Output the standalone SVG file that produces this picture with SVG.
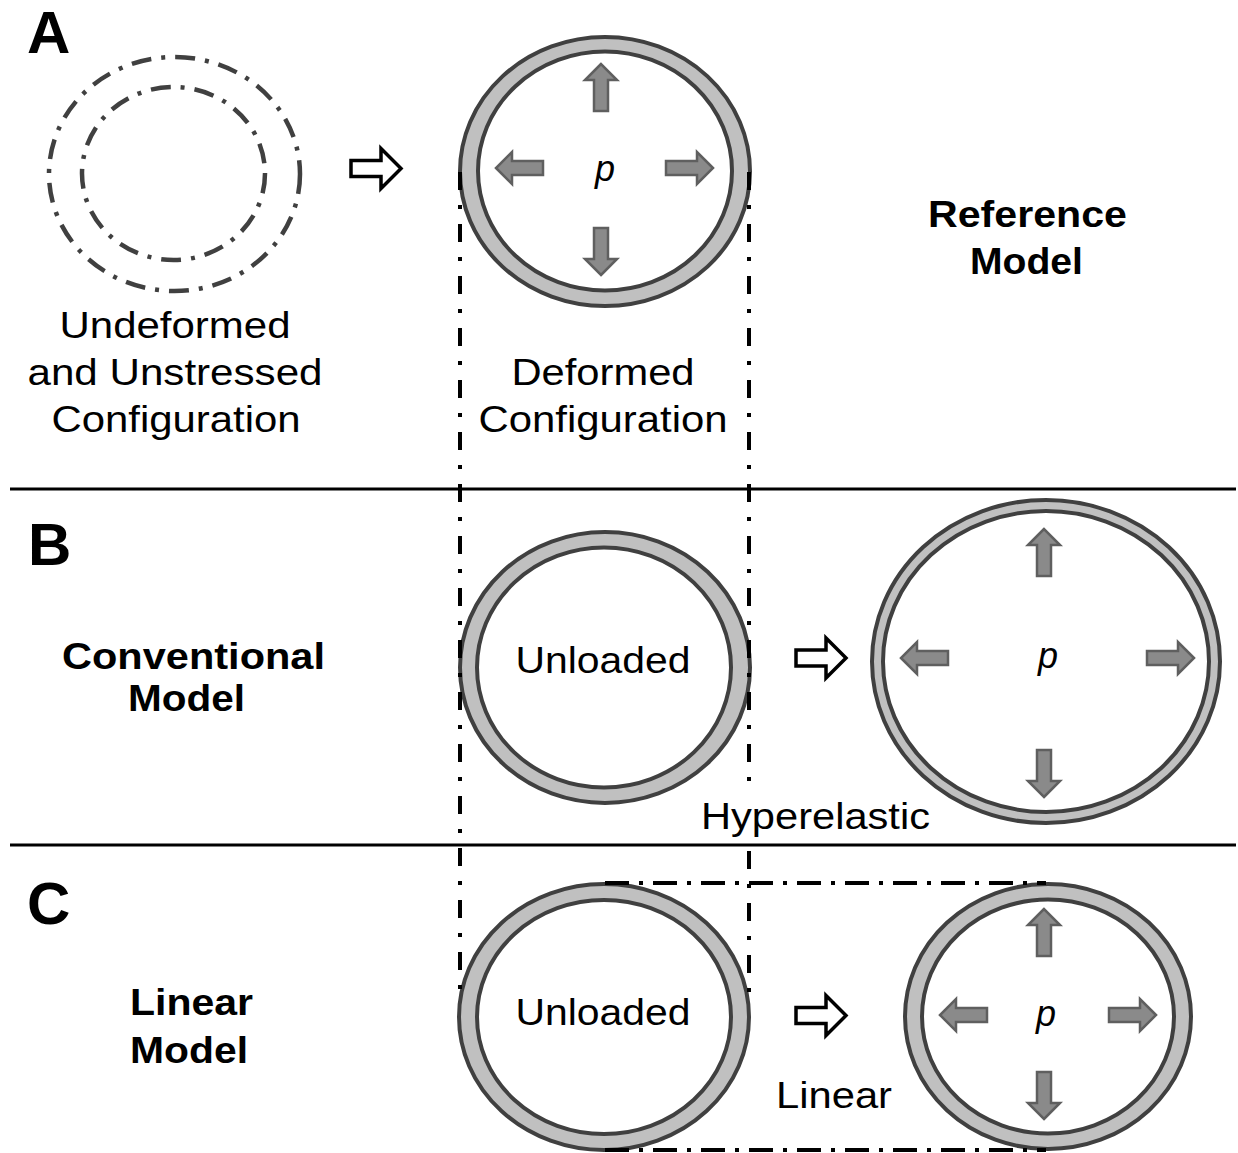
<svg xmlns="http://www.w3.org/2000/svg" width="1238" height="1153" viewBox="0 0 1238 1153">
  <style>
    .reg { font-family: "Liberation Sans", Arial, sans-serif; font-size: 36px; fill: #000; text-anchor: middle; }
    .bold { font-family: "Liberation Sans", Arial, sans-serif; font-size: 36px; font-weight: bold; fill: #000; text-anchor: middle; }
    .letter { font-family: "Liberation Sans", Arial, sans-serif; font-size: 60px; font-weight: bold; fill: #000; }
    .pvar { font-family: "Liberation Sans", Arial, sans-serif; font-size: 36px; font-style: italic; fill: #000; text-anchor: middle; }
    .ringout { fill: #c0c0c0; stroke: #404040; stroke-width: 4; }
    .ringin { fill: #ffffff; stroke: #404040; stroke-width: 4; }
    .ghost { fill: none; stroke: #404040; stroke-width: 4.5; stroke-dasharray: 20 10 4 10; }
    .guide { fill: none; stroke: #000; stroke-width: 4; stroke-dasharray: 18 15 4 15; }
    .guideh { fill: none; stroke: #000; stroke-width: 4; stroke-dasharray: 24 10 4 10; }
    .sep { stroke: #000; stroke-width: 3; }
    .hollow { fill: #fff; stroke: #000; stroke-width: 3.5; stroke-linejoin: miter; }
    .parrow { fill: #8a8a8a; stroke: #5f5f5f; stroke-width: 2.5; stroke-linejoin: miter; }
  </style>
  <defs>
    <path id="pa" class="parrow" d="M0,0 L-16,-16 V-7 H-47 V7 H-16 V16 Z"/>
    <path id="ha" class="hollow" d="M0,0 L-20,20 V8 H-50 V-8 H-20 V-20 Z"/>
  </defs>
  <rect width="1238" height="1153" fill="#fff"/>

  <!-- separators -->
  <g id="separators">
    <line class="sep" x1="10" y1="489" x2="1236" y2="489"/>
    <line class="sep" x1="10" y1="845" x2="1236" y2="845"/>
  </g>

  <!-- panel letters -->
  <text class="letter" x="27" y="53">A</text>
  <text class="letter" x="28" y="565">B</text>
  <text class="letter" x="27" y="924">C</text>

  <!-- A: undeformed -->
  <g id="undeformed">
    <ellipse class="ghost" cx="174.5" cy="174" rx="125.5" ry="117"/>
    <ellipse class="ghost" cx="173.5" cy="173.5" rx="91.5" ry="86.5"/>
    <text class="reg" x="175" y="338" textLength="231" lengthAdjust="spacingAndGlyphs">Undeformed</text>
    <text class="reg" x="175" y="385" textLength="295" lengthAdjust="spacingAndGlyphs">and Unstressed</text>
    <text class="reg" x="176" y="432" textLength="249" lengthAdjust="spacingAndGlyphs">Configuration</text>
  </g>

  <!-- A: deformed -->
  <g id="deformed">
    <ellipse class="ringout" cx="605" cy="171.5" rx="145" ry="134.5"/>
    <ellipse class="ringin" cx="605" cy="171" rx="127" ry="119.5"/>
    <use href="#pa" transform="translate(601,64) rotate(-90)"/>
    <use href="#pa" transform="translate(601,275) rotate(90)"/>
    <use href="#pa" transform="translate(496,168) rotate(180)"/>
    <use href="#pa" transform="translate(713,168)"/>
    <text class="pvar" x="605" y="181">p</text>
    <text class="reg" x="603" y="385" textLength="183" lengthAdjust="spacingAndGlyphs">Deformed</text>
    <text class="reg" x="603" y="432" textLength="249" lengthAdjust="spacingAndGlyphs">Configuration</text>
  </g>

  <g id="reference-label">
    <text class="bold" x="1027.5" y="227" textLength="199" lengthAdjust="spacingAndGlyphs">Reference</text>
    <text class="bold" x="1026.5" y="274" textLength="113" lengthAdjust="spacingAndGlyphs">Model</text>
  </g>

  <!-- B -->
  <g id="conventional-label">
    <text class="bold" x="193.5" y="669" textLength="263" lengthAdjust="spacingAndGlyphs">Conventional</text>
    <text class="bold" x="186.5" y="711" textLength="117" lengthAdjust="spacingAndGlyphs">Model</text>
  </g>
  <g id="b-unloaded">
    <ellipse class="ringout" cx="605" cy="667.5" rx="145" ry="135.5"/>
    <ellipse class="ringin" cx="604" cy="667.5" rx="127" ry="120"/>
    <text class="reg" x="603" y="673" textLength="175" lengthAdjust="spacingAndGlyphs">Unloaded</text>
  </g>
  <g id="b-loaded">
    <ellipse class="ringout" cx="1046" cy="661.5" rx="174" ry="161.5"/>
    <ellipse class="ringin" cx="1046" cy="661.5" rx="163" ry="150.5"/>
    <use href="#pa" transform="translate(1044,529) rotate(-90)"/>
    <use href="#pa" transform="translate(1044,797) rotate(90)"/>
    <use href="#pa" transform="translate(901,658) rotate(180)"/>
    <use href="#pa" transform="translate(1194,658)"/>
    <text class="pvar" x="1048" y="668">p</text>
  </g>

  <!-- C -->
  <g id="linear-label">
    <text class="bold" x="191.5" y="1015" textLength="123" lengthAdjust="spacingAndGlyphs">Linear</text>
    <text class="bold" x="189" y="1063" textLength="118" lengthAdjust="spacingAndGlyphs">Model</text>
  </g>
  <g id="c-unloaded">
    <ellipse class="ringout" cx="604" cy="1017" rx="145" ry="133"/>
    <ellipse class="ringin" cx="604" cy="1017" rx="127" ry="117"/>
    <text class="reg" x="603" y="1025" textLength="175" lengthAdjust="spacingAndGlyphs">Unloaded</text>
  </g>
  <g id="c-loaded">
    <ellipse class="ringout" cx="1048" cy="1016.5" rx="143" ry="132.5"/>
    <ellipse class="ringin" cx="1048" cy="1016.5" rx="126" ry="117"/>
    <use href="#pa" transform="translate(1044,909) rotate(-90)"/>
    <use href="#pa" transform="translate(1044,1119) rotate(90)"/>
    <use href="#pa" transform="translate(940,1015) rotate(180)"/>
    <use href="#pa" transform="translate(1156,1015)"/>
    <text class="pvar" x="1046" y="1026">p</text>
  </g>

  <!-- guide lines and transition arrows (connectors) -->
  <g id="connectors">
    <line class="guide" x1="460" y1="172" x2="460" y2="1000"/>
    <line class="guide" x1="749" y1="172" x2="749" y2="788"/>
    <line class="guide" x1="749" y1="851" x2="749" y2="998"/>
    <line class="guideh" x1="605" y1="883" x2="1046" y2="883"/>
    <line class="guideh" x1="605" y1="1150" x2="1046" y2="1150"/>
    <use href="#ha" transform="translate(401,168.5)"/>
    <use href="#ha" transform="translate(846,658)"/>
    <use href="#ha" transform="translate(846,1015.5)"/>
  </g>

  <text class="reg" x="815.5" y="829" textLength="229" lengthAdjust="spacingAndGlyphs">Hyperelastic</text>
  <text class="reg" x="834" y="1108" textLength="116" lengthAdjust="spacingAndGlyphs">Linear</text>
</svg>
